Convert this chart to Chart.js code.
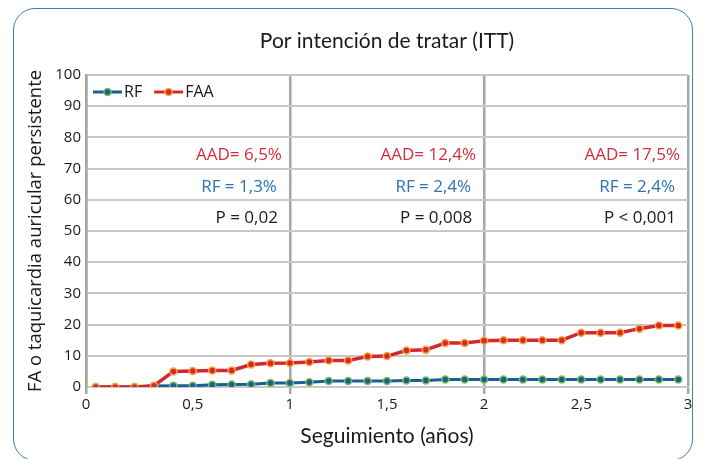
<!DOCTYPE html>
<html>
<head>
<meta charset="utf-8">
<script src="https://cdn.jsdelivr.net/npm/chart.js@4/dist/chart.umd.min.js"></script>
<style>
  html, body { margin: 0; padding: 0; background: #ffffff; }
  #wrap { position: relative; width: 705px; height: 459px; overflow: hidden; }
  #c { position: absolute; left: 0; top: 0; }
  #frame { position: absolute; left: 13px; top: 8px; width: 678px; height: 451px;
           border: 1.5px solid #3b7dbd; border-radius: 22px; pointer-events: none; }
</style>
</head>
<body>
<div id="wrap">
  <canvas id="c" width="705" height="459"></canvas>
  <div id="frame"></div>
</div>
<script>
// ---- data ----
const chartTitle = 'Por intención de tratar (ITT)';
const xAxisTitle = 'Seguimiento (años)';
const yAxisTitle = 'FA o taquicardia auricular persistente';

const xYears = [0, 0.1, 0.2, 0.3, 0.4, 0.5, 0.6, 0.7, 0.8, 0.9,
                1.0, 1.1, 1.2, 1.3, 1.4, 1.5, 1.6, 1.7, 1.8, 1.9,
                2.0, 2.1, 2.2, 2.3, 2.4, 2.5, 2.6, 2.7, 2.8, 2.9, 3.0];

const rfValues = [0, 0, 0, 0.3, 0.4, 0.4, 0.7, 0.8, 0.9, 1.3,
                  1.3, 1.5, 1.9, 1.9, 1.9, 1.9, 2.1, 2.1, 2.4, 2.4,
                  2.4, 2.4, 2.4, 2.4, 2.4, 2.4, 2.4, 2.4, 2.4, 2.4, 2.4];

const faaValues = [0, 0, 0, 0.4, 5.0, 5.1, 5.3, 5.3, 7.2, 7.6,
                   7.7, 8.0, 8.5, 8.5, 9.8, 9.9, 11.7, 11.9, 14.1, 14.1,
                   14.8, 15.0, 15.0, 15.0, 15.0, 17.4, 17.4, 17.4, 18.7, 19.7, 19.7];

const seriesNames = ['RF', 'FAA'];

const xTickValues = [-0.05, 0.5, 1, 1.5, 2, 2.5, 3.05];
const xTickLabels = ['0', '0,5', '1', '1,5', '2', '2,5', '3'];
const xGridValues = [-0.05, 1, 2, 3.05];

const yTickValues = [0, 10, 20, 30, 40, 50, 60, 70, 80, 90, 100];

const noteAnchorsX = [1, 2, 3.05];
const noteRowsY = [74.3, 64.2, 54.1];
const noteTexts = [
  ['AAD= 6,5%',  'RF = 1,3%', 'P = 0,02'],
  ['AAD= 12,4%', 'RF = 2,4%', 'P = 0,008'],
  ['AAD= 17,5%', 'RF = 2,4%', 'P < 0,001']
];

// ---- styles ----
const RF_LINE = '#1c5c98', RF_DOT = '#1c5c98', RF_RING = '#7cc04b';
const FAA_LINE = '#d8262e', FAA_DOT = '#d8262e', FAA_RING = '#f4a83a';
const noteColors = ['#d0313a', '#2e74b5', '#1a1a1a'];
const noteOffsets = [8, 13, 12];

const toPts = (ys) => ys.map((y, i) => ({ x: xYears[i], y: y }));

const notesPlugin = {
  id: 'notes',
  afterDatasetsDraw(chart) {
    const { ctx, scales: { x, y } } = chart;
    ctx.save();
    ctx.font = "17px 'Open Sans', sans-serif";
    ctx.textAlign = 'right';
    ctx.textBaseline = 'middle';
    noteTexts.forEach((col, ci) => {
      col.forEach((txt, ri) => {
        ctx.fillStyle = noteColors[ri];
        ctx.fillText(txt, x.getPixelForValue(noteAnchorsX[ci]) - noteOffsets[ri], y.getPixelForValue(noteRowsY[ri]));
      });
    });
    ctx.restore();
  }
};

const legendPlugin = {
  id: 'insideLegend',
  afterDatasetsDraw(chart) {
    const { ctx, chartArea } = chart;
    ctx.save();
    ctx.font = "16px 'Open Sans', sans-serif";
    ctx.textBaseline = 'middle';
    ctx.textAlign = 'left';
    let px = chartArea.left + 7;
    const py = chartArea.top + 17;
    chart.data.datasets.forEach((ds) => {
      const len = 29;
      ctx.strokeStyle = ds.borderColor;
      ctx.lineWidth = 3;
      ctx.beginPath();
      ctx.moveTo(px, py);
      ctx.lineTo(px + len, py);
      ctx.stroke();
      ctx.beginPath();
      ctx.arc(px + len / 2, py, 3.5, 0, Math.PI * 2);
      ctx.fillStyle = ds.pointBackgroundColor;
      ctx.fill();
      ctx.lineWidth = 1.5;
      ctx.strokeStyle = ds.pointBorderColor;
      ctx.stroke();
      ctx.fillStyle = '#1a1a1a';
      ctx.fillText(ds.label, px + len + 2, py);
      px += len + 2 + ctx.measureText(ds.label).width + 12;
    });
    ctx.restore();
  }
};

new Chart(document.getElementById('c'), {
  type: 'line',
  data: {
    datasets: [
      {
        label: seriesNames[0],
        data: toPts(rfValues),
        borderColor: RF_LINE,
        borderWidth: 3,
        pointRadius: 3.5,
        pointBorderWidth: 1.5,
        pointBackgroundColor: RF_DOT,
        pointBorderColor: RF_RING,
        tension: 0,
        order: 2
      },
      {
        label: seriesNames[1],
        data: toPts(faaValues),
        borderColor: FAA_LINE,
        borderWidth: 3.5,
        pointRadius: 3.5,
        pointBorderWidth: 1.5,
        pointBackgroundColor: FAA_DOT,
        pointBorderColor: FAA_RING,
        tension: 0,
        order: 1
      }
    ]
  },
  options: {
    responsive: false,
    animation: false,
    devicePixelRatio: 1,
    layout: { padding: { left: 14, right: 17, top: 0, bottom: 8 } },
    plugins: {
      legend: { display: false },
      tooltip: { enabled: false },
      title: {
        display: true,
        text: chartTitle,
        fullSize: false,
        color: '#1a1a1a',
        font: { family: "Lato, sans-serif", size: 21, weight: 'normal', lineHeight: 1.2 },
        padding: { top: 29, bottom: 20.8 }
      }
    },
    scales: {
      x: {
        type: 'linear',
        min: -0.05,
        max: 3.05,
        afterBuildTicks(scale) {
          scale.ticks = xTickValues.map(v => ({ value: v }));
        },
        afterFit(scale) { scale.height = 64; },
        ticks: {
          autoSkip: false,
          maxRotation: 0,
          padding: 2,
          color: '#1a1a1a',
          font: { family: "'Open Sans', sans-serif", size: 15 },
          callback(value, index) { return xTickLabels[index]; }
        },
        grid: {
          drawTicks: true,
          tickLength: 7,
          lineWidth: 2.5,
          color(ctx) {
            const v = ctx.tick ? ctx.tick.value : null;
            return xGridValues.some(g => Math.abs(g - v) < 1e-6) ? '#a6a6a6' : 'rgba(0,0,0,0)';
          }
        },
        border: { display: true, color: '#c8c8c8', width: 2 },
        title: {
          display: true,
          text: xAxisTitle,
          color: '#1a1a1a',
          font: { family: "Lato, sans-serif", size: 21 },
          padding: { top: 0, bottom: 2 }
        }
      },
      y: {
        min: 0,
        max: 100,
        afterBuildTicks(scale) {
          scale.ticks = yTickValues.map(v => ({ value: v }));
        },
        afterFit(scale) { scale.width = 72; },
        ticks: {
          padding: 5,
          color: '#1a1a1a',
          font: { family: "'Open Sans', sans-serif", size: 15 }
        },
        grid: {
          drawTicks: false,
          lineWidth: 2,
          color: '#c8c8c8'
        },
        border: { display: true, color: '#a6a6a6', width: 2.5 },
        title: {
          display: true,
          text: yAxisTitle,
          color: '#1a1a1a',
          font: { family: "'Open Sans', sans-serif", size: 18.5 },
          padding: { top: 11, bottom: 0 }
        }
      }
    }
  },
  plugins: [notesPlugin, legendPlugin]
});
</script>
</body>
</html>
